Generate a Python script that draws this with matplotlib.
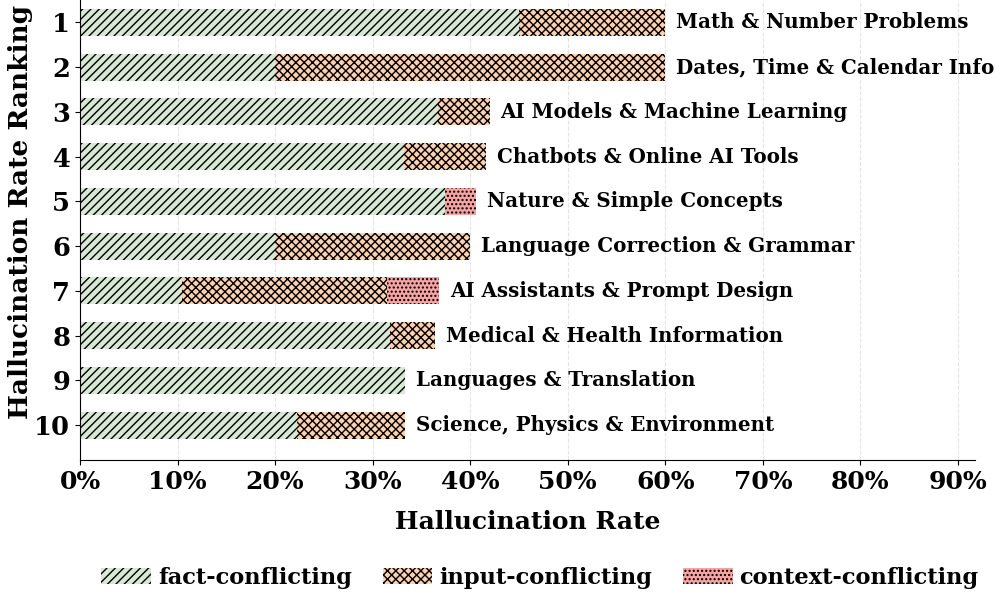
import matplotlib
matplotlib.use("Agg")
import matplotlib.pyplot as plt
import numpy as np

plt.rcParams['font.family'] = 'DejaVu Serif'
plt.rcParams['font.weight'] = 'bold'
plt.rcParams['hatch.linewidth'] = 1.0

rankings = [1, 2, 3, 4, 5, 6, 7, 8, 9, 10]
categories = ["Math & Number Problems", "Dates, Time & Calendar Info",
              "AI Models & Machine Learning", "Chatbots & Online AI Tools",
              "Nature & Simple Concepts", "Language Correction & Grammar",
              "AI Assistants & Prompt Design", "Medical & Health Information",
              "Languages & Translation", "Science, Physics & Environment"]
fact = [0.450, 0.200, 0.367, 0.332, 0.374, 0.200, 0.105, 0.318, 0.333, 0.222]
inp = [0.150, 0.400, 0.053, 0.084, 0.000, 0.200, 0.210, 0.046, 0.000, 0.111]
ctx = [0.000, 0.000, 0.000, 0.000, 0.032, 0.000, 0.053, 0.000, 0.000, 0.000]

fact = np.array(fact)
inp = np.array(inp)
ctx = np.array(ctx)
y = np.arange(len(rankings))

fig = plt.figure(figsize=(9.96, 5.98), dpi=100)
ax = fig.add_axes([80/996, 1-460/598, 895/996, 460/598])

ax.barh(y, fact, height=0.6, color='#d7e8d4', edgecolor='black', linewidth=0,
        hatch='////', label='fact-conflicting', zorder=2)
ax.barh(y, inp, left=fact, height=0.6, color='#fdd0b0', edgecolor='black', linewidth=0,
        hatch='xxxx', label='input-conflicting', zorder=2)
ax.barh(y, ctx, left=fact+inp, height=0.6, color='#f5a3a3', edgecolor='black', linewidth=0,
        hatch='....', label='context-conflicting', zorder=2)

# category name to the right of each bar
total = fact + inp + ctx
for i in range(len(y)):
    ax.text(total[i] + 0.011, y[i], categories[i], va='center', ha='left',
            fontsize=14.3, fontweight='bold')

ax.set_yticks(y)
ax.set_yticklabels([str(r) for r in rankings], fontsize=18.5)
ax.set_ylim(9.78, -0.5)
ax.set_xlim(0, 0.9175)
ax.set_xticks(np.arange(0, 0.91, 0.1))
ax.set_xticklabels([f"{int(round(v*100))}%" for v in np.arange(0, 0.91, 0.1)], fontsize=18)
ax.set_xlabel("Hallucination Rate", fontsize=18, fontweight='bold')
ax.set_ylabel("Hallucination Rate Ranking", fontsize=19, fontweight='bold')
ax.xaxis.set_label_coords(0.5, -0.109)
ax.yaxis.set_label_coords(-0.052, 0.539)

ax.spines['top'].set_visible(False)
ax.spines['right'].set_visible(False)
ax.grid(axis='x', linestyle='--', color='lightgray', alpha=0.6, zorder=0)
ax.set_axisbelow(True)

ax.legend(loc='center', bbox_to_anchor=(0.514, -0.256), ncol=3, frameon=False,
          fontsize=16.2, handletextpad=0.31, handlelength=2.2, columnspacing=1.38)

plt.savefig('out.png', dpi=100)
